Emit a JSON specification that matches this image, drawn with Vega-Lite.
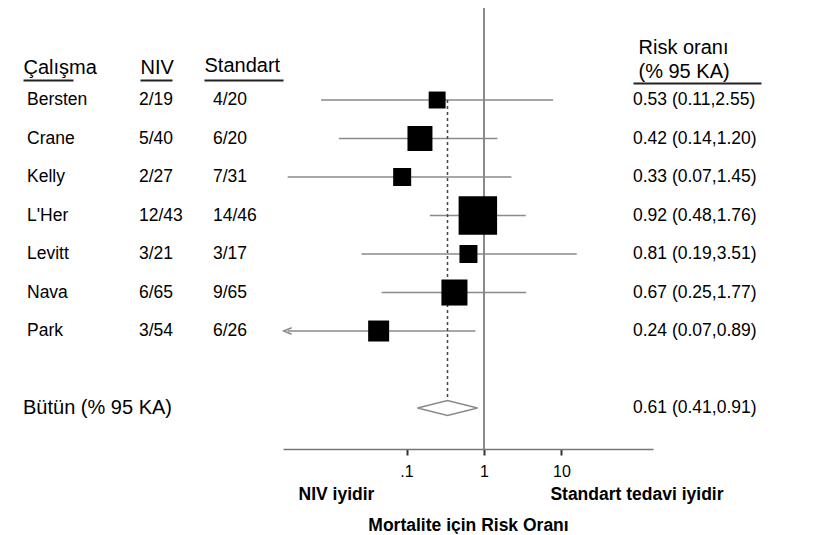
{
  "$schema": "https://vega.github.io/schema/vega-lite/v6.json",
  "padding": {"left": 23, "top": 7, "right": 0, "bottom": 0},
  "background": "white",
  "config": {"font": "Liberation Sans", "view": {"stroke": null}},
  "spacing": 0,
  "bounds": "flush",
  "datasets": {
    "rows": [
      {"study": "Bersten", "niv": "2/19", "std": "4/20", "rr": 0.53, "lo": 0.11, "hi": 2.55, "weight": 6.9, "ci": "0.53 (0.11,2.55)", "kind": "study"},
      {"study": "Crane", "niv": "5/40", "std": "6/20", "rr": 0.42, "lo": 0.14, "hi": 1.20, "weight": 15.0, "ci": "0.42 (0.14,1.20)", "kind": "study"},
      {"study": "Kelly", "niv": "2/27", "std": "7/31", "rr": 0.33, "lo": 0.07, "hi": 1.45, "weight": 7.8, "ci": "0.33 (0.07,1.45)", "kind": "study"},
      {"study": "L'Her", "niv": "12/43", "std": "14/46", "rr": 0.92, "lo": 0.48, "hi": 1.76, "weight": 35.6, "ci": "0.92 (0.48,1.76)", "kind": "study"},
      {"study": "Levitt", "niv": "3/21", "std": "3/17", "rr": 0.81, "lo": 0.19, "hi": 3.51, "weight": 7.8, "ci": "0.81 (0.19,3.51)", "kind": "study"},
      {"study": "Nava", "niv": "6/65", "std": "9/65", "rr": 0.67, "lo": 0.25, "hi": 1.77, "weight": 16.3, "ci": "0.67 (0.25,1.77)", "kind": "study"},
      {"study": "Park", "niv": "3/54", "std": "6/26", "rr": 0.24, "lo": 0.07, "hi": 0.89, "weight": 10.6, "ci": "0.24 (0.07,0.89)", "kind": "study", "truncated": true},
      {"study": "Bütün (% 95 KA)", "rr": 0.61, "lo": 0.41, "hi": 0.91, "ci": "0.61 (0.41,0.91)", "kind": "summary"}
    ]
  },
  "data": {"name": "rows"},
  "hconcat": [
    {
      "width": 116, "height": 441,
      "layer": [
        {
          "transform": [{"filter": "datum.kind == 'study'"}],
          "mark": {"type": "text", "align": "left", "baseline": "middle", "fontSize": 17.5, "dx": 4, "color": "#000"},
          "encoding": {
            "x": {"datum": 0, "type": "quantitative", "scale": {"domain": [0, 1], "range": [0, 50]},
              "axis": {"orient": "top", "offset": -72, "domain": true, "domainColor": "#222", "domainWidth": 2, "ticks": false, "labels": false, "grid": false,
                "title": "Çalışma", "titleAnchor": "start", "titleAlign": "left", "titleFontSize": 20, "titleFontWeight": "normal", "titleColor": "#000", "titlePadding": 3}},
            "y": {"field": "study", "type": "nominal", "scale": {"type": "point", "domain": ["top", "header", "Bersten", "Crane", "Kelly", "L'Her", "Levitt", "Nava", "Park", " ", "Bütün (% 95 KA)"], "padding": 0.727, "align": 0.268}, "axis": null},
            "text": {"field": "study"}
          }
        },
        {
          "transform": [{"filter": "datum.kind == 'summary'"}],
          "mark": {"type": "text", "align": "left", "baseline": "middle", "fontSize": 20, "color": "#000"},
          "encoding": {
            "x": {"datum": 0, "type": "quantitative"},
            "y": {"field": "study", "type": "nominal"},
            "text": {"field": "study"}
          }
        }
      ]
    },
    {
      "width": 65, "height": 441,
      "transform": [{"filter": "datum.kind == 'study'"}],
      "mark": {"type": "text", "align": "left", "baseline": "middle", "fontSize": 17.5, "dx": -1, "color": "#000"},
      "encoding": {
        "x": {"datum": 0, "type": "quantitative", "scale": {"domain": [0, 1], "range": [1, 33]},
          "axis": {"orient": "top", "offset": -72, "domain": true, "domainColor": "#222", "domainWidth": 2, "ticks": false, "labels": false, "grid": false,
            "title": "NIV", "titleAnchor": "start", "titleAlign": "left", "titleFontSize": 20, "titleFontWeight": "normal", "titleColor": "#000", "titlePadding": 3}},
        "y": {"field": "study", "type": "nominal", "scale": {"type": "point", "domain": ["top", "header", "Bersten", "Crane", "Kelly", "L'Her", "Levitt", "Nava", "Park", " ", "Bütün (% 95 KA)"], "padding": 0.727, "align": 0.268}, "axis": null},
        "text": {"field": "niv"}
      }
    },
    {
      "width": 79, "height": 441,
      "transform": [{"filter": "datum.kind == 'study'"}],
      "mark": {"type": "text", "align": "left", "baseline": "middle", "fontSize": 17.5, "dx": 9, "color": "#000"},
      "encoding": {
        "x": {"datum": 0, "type": "quantitative", "scale": {"domain": [0, 1], "range": [0, 79]},
          "axis": {"orient": "top", "offset": -72, "domain": true, "domainColor": "#222", "domainWidth": 2, "ticks": false, "labels": false, "grid": false,
            "title": "Standart", "titleAnchor": "start", "titleAlign": "left", "titleFontSize": 20, "titleFontWeight": "normal", "titleColor": "#000", "titlePadding": 5}},
        "y": {"field": "study", "type": "nominal", "scale": {"type": "point", "domain": ["top", "header", "Bersten", "Crane", "Kelly", "L'Her", "Levitt", "Nava", "Park", " ", "Bütün (% 95 KA)"], "padding": 0.727, "align": 0.268}, "axis": null},
        "text": {"field": "std"}
      }
    },
    {
      "width": 370, "height": 441,
      "encoding": {
        "y": {"field": "study", "type": "nominal", "scale": {"type": "point", "domain": ["top", "header", "Bersten", "Crane", "Kelly", "L'Her", "Levitt", "Nava", "Park", " ", "Bütün (% 95 KA)"], "padding": 0.727, "align": 0.268}, "axis": null}
      },
      "layer": [
        {
          "mark": {"type": "rule", "color": "#8a8a8a", "strokeWidth": 2},
          "encoding": {
            "y": null,
            "x": {"datum": 1, "type": "quantitative", "scale": {"type": "log", "domain": [0.002549, 151.6], "nice": false},
              "axis": {"orient": "bottom", "values": [0.1, 1, 10], "labelExpr": "datum.value < 0.5 ? '.1' : (datum.value < 5 ? '1' : '10')",
                "domainColor": "#777", "domainWidth": 1.5, "tickColor": "#333", "tickWidth": 2, "tickSize": 6,
                "labelFontSize": 16, "labelColor": "black", "labelPadding": 8, "labelFlush": false, "grid": false, "title": null}}
          }
        },
        {
          "transform": [{"filter": "datum.kind == 'study'"}],
          "mark": {"type": "rule", "color": "#8a8a8a", "strokeWidth": 1.5},
          "encoding": {
            "x": {"field": "lo", "type": "quantitative", "scale": {"type": "log", "domain": [0.0657, 9.865], "nice": false},
              "axis": {"orient": "bottom", "values": [0.0657, 9.865], "domain": false, "ticks": false, "grid": false,
                "labelExpr": "datum.value < 1 ? 'NIV iyidir' : 'Standart tedavi iyidir'",
                "labelAlign": {"condition": {"test": "datum.value < 1", "value": "left"}, "value": "right"},
                "labelOffset": {"condition": {"test": "datum.value < 1", "value": 15}, "value": 70},
                "labelFontSize": 17.5, "labelFontWeight": "bold", "labelColor": "black", "labelPadding": 36,
                "labelFlush": false, "labelBound": false, "labelOverlap": false,
                "title": "Mortalite için Risk Oranı", "titleFontSize": 17.5, "titleFontWeight": "bold", "titleColor": "black", "titlePadding": 14}},
            "x2": {"field": "hi"}
          }
        },
        {
          "transform": [{"filter": "datum.kind == 'summary'"}],
          "mark": {"type": "rule", "color": "#444", "strokeWidth": 1.5, "strokeDash": [3, 3]},
          "encoding": {
            "x": {"field": "rr", "type": "quantitative", "scale": {"type": "log", "domain": [0.0657, 9.865], "nice": false}, "axis": null},
            "y": {"datum": "Bersten", "type": "nominal"},
            "y2": {"field": "study"}
          }
        },
        {
          "transform": [{"filter": "datum.kind == 'summary'"}],
          "mark": {"type": "point", "shape": "M-4,0L0,-1L4,0L0,1Z", "size": 225, "filled": true, "fill": "white", "stroke": "#8a8a8a", "strokeWidth": 1.5, "opacity": 1},
          "encoding": {
            "x": {"field": "rr", "type": "quantitative", "scale": {"type": "log", "domain": [0.0657, 9.865], "nice": false}, "axis": null}
          }
        },
        {
          "transform": [{"filter": "datum.kind == 'study'"}],
          "mark": {"type": "square", "color": "black", "opacity": 1},
          "encoding": {
            "x": {"field": "rr", "type": "quantitative", "scale": {"type": "log", "domain": [0.0657, 9.865], "nice": false}, "axis": null},
            "size": {"field": "weight", "type": "quantitative", "scale": {"domain": [0, 100], "range": [0, 4159]}, "legend": null}
          }
        },
        {
          "transform": [{"filter": "datum.truncated == true"}],
          "mark": {"type": "point", "shape": "M1,-0.8L-1,0L1,0.8", "size": 64, "filled": false, "stroke": "#8a8a8a", "strokeWidth": 1.5, "opacity": 1},
          "encoding": {
            "x": {"field": "lo", "type": "quantitative", "scale": {"type": "log", "domain": [0.0657, 9.865], "nice": false}, "axis": null}
          }
        }
      ],
      "resolve": {"scale": {"x": "independent"}}
    },
    {
      "width": 170, "height": 441,
      "mark": {"type": "text", "align": "left", "baseline": "middle", "fontSize": 17.5, "color": "#000"},
      "encoding": {
        "x": {"datum": 0, "type": "quantitative", "scale": {"domain": [0, 1], "range": [-20, 108]},
          "axis": {"orient": "top", "offset": -75, "domain": true, "domainColor": "#222", "domainWidth": 2, "ticks": false, "labels": false, "grid": false,
            "title": ["Risk oranı", "(% 95 KA)"], "titleLineHeight": 24, "titleX": -15, "titleAnchor": "start", "titleAlign": "left", "titleFontSize": 20, "titleFontWeight": "normal", "titleColor": "#000", "titlePadding": 2}},
        "y": {"field": "study", "type": "nominal", "scale": {"type": "point", "domain": ["top", "header", "Bersten", "Crane", "Kelly", "L'Her", "Levitt", "Nava", "Park", " ", "Bütün (% 95 KA)"], "padding": 0.727, "align": 0.268}, "axis": null},
        "text": {"field": "ci"}
      }
    }
  ]
}
